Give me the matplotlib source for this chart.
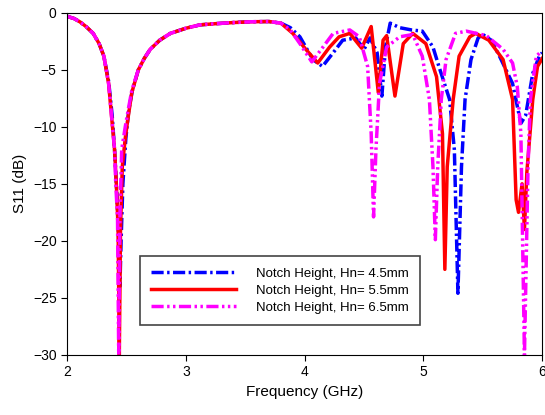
import matplotlib.pyplot as plt

plt.rcParams['font.family'] = ['Liberation Sans', 'DejaVu Sans']

# Hn = 4.5 mm
f_45 = [2.0, 2.06, 2.11, 2.16, 2.22, 2.27, 2.31, 2.35, 2.38, 2.40, 2.42, 2.435, 2.445,
        2.455, 2.47, 2.495, 2.52, 2.55, 2.60, 2.65, 2.70, 2.78, 2.87, 3.0, 3.12, 3.25,
        3.40, 3.55, 3.70, 3.80, 3.88, 3.96, 4.07, 4.15, 4.24, 4.32, 4.43, 4.50, 4.55,
        4.61, 4.65, 4.68, 4.72, 4.80, 4.90, 4.99, 5.08, 5.13, 5.22, 5.26, 5.29, 5.32,
        5.35, 5.40, 5.46, 5.50, 5.57, 5.64, 5.75, 5.82, 5.86, 5.92, 5.975, 6.0]
s_45 = [-0.3, -0.5, -0.8, -1.2, -1.8, -2.7, -3.8, -6.0, -9.0, -12, -16, -20, -24,
        -20, -15, -11, -8.5, -6.8, -5.0, -4.0, -3.2, -2.4, -1.8, -1.35, -1.05, -0.95,
        -0.85, -0.78, -0.76, -0.9, -1.3, -2.1, -4.1, -4.7, -3.5, -2.4, -2.2, -3.2, -2.2,
        -3.5, -7.3, -3.0, -0.9, -1.3, -1.5, -1.6, -3.0, -4.7, -7.6, -12.0, -24.6, -13.5,
        -7.6, -4.1, -2.2, -1.9, -2.4, -3.8, -6.2, -9.7, -9.0, -5.3, -3.8, -3.5]

# Hn = 5.5 mm
f_55 = [2.0, 2.06, 2.11, 2.16, 2.22, 2.27, 2.31, 2.35, 2.375, 2.40, 2.415, 2.43, 2.44,
        2.45, 2.465, 2.49, 2.515, 2.545, 2.60, 2.65, 2.70, 2.78, 2.87, 3.0, 3.12, 3.25,
        3.40, 3.55, 3.70, 3.80, 3.90, 4.01, 4.11, 4.21, 4.29, 4.38, 4.48, 4.56, 4.62,
        4.66, 4.69, 4.76, 4.83, 4.91, 5.02, 5.11, 5.16, 5.18, 5.20, 5.25, 5.30, 5.39,
        5.44, 5.55, 5.67, 5.75, 5.78, 5.80, 5.83, 5.85, 5.87, 5.92, 5.96, 6.0]
s_55 = [-0.3, -0.5, -0.8, -1.2, -1.8, -2.7, -3.8, -6.2, -9.1, -12, -15, -19, -30,
        -19, -13.5, -11, -9.1, -7.0, -5.0, -4.0, -3.2, -2.4, -1.8, -1.35, -1.05, -0.95,
        -0.85, -0.78, -0.76, -0.9, -1.8, -3.2, -4.4, -3.0, -2.1, -1.8, -3.1, -1.2, -7.0,
        -2.4, -2.0, -7.3, -2.7, -1.8, -2.7, -5.6, -10.6, -22.5, -13.5, -7.6, -3.8, -2.1,
        -1.8, -2.4, -4.1, -7.6, -16.4, -17.5, -15.0, -19.0, -14.0, -7.6, -4.7, -4.0]

# Hn = 6.5 mm
f_65 = [2.0, 2.06, 2.11, 2.16, 2.22, 2.27, 2.31, 2.35, 2.375, 2.40, 2.41, 2.425, 2.435,
        2.445, 2.46, 2.49, 2.515, 2.545, 2.60, 2.65, 2.70, 2.78, 2.87, 3.0, 3.12, 3.25,
        3.40, 3.55, 3.70, 3.80, 3.88, 3.96, 4.06, 4.14, 4.24, 4.38, 4.46, 4.53, 4.56,
        4.58, 4.60, 4.63, 4.69, 4.80, 4.91, 4.99, 5.05, 5.08, 5.10, 5.12, 5.15, 5.19,
        5.27, 5.36, 5.53, 5.67, 5.75, 5.79, 5.82, 5.85, 5.88, 5.90, 5.95, 5.99]
s_65 = [-0.3, -0.5, -0.8, -1.2, -1.8, -2.7, -3.8, -6.2, -9.1, -12, -15, -18, -30,
        -18, -12, -10, -8.5, -6.8, -5.0, -4.0, -3.2, -2.4, -1.8, -1.35, -1.05, -0.95,
        -0.85, -0.78, -0.76, -0.9, -1.5, -2.7, -4.3, -3.2, -1.8, -1.5, -2.1, -4.7, -10.6,
        -17.9, -12.0, -6.2, -3.0, -2.1, -1.9, -3.8, -7.6, -13.5, -19.9, -13.5, -7.6, -4.1,
        -1.8, -1.6, -2.0, -3.2, -4.4, -6.5, -10.6, -30, -13.5, -7.6, -3.8, -3.4]

labels = ['Notch Height, Hn= 4.5mm', 'Notch Height, Hn= 5.5mm', 'Notch Height, Hn= 6.5mm']

fig = plt.figure(figsize=(5.45, 4.15), dpi=100)
ax = fig.add_axes([0.123, 0.145, 0.872, 0.824])

ax.plot(f_45, s_45, color='#0000ff', lw=2.5, dashes=(3.5, 1, 0.7, 1), label=labels[0])
ax.plot(f_55, s_55, color='#ff0000', lw=2.5, label=labels[1])
ax.plot(f_65, s_65, color='#ff00ff', lw=2.5, dashes=(3.5, 1, 0.7, 1, 0.7, 1), label=labels[2])

ax.set_xlim(2, 6)
ax.set_ylim(-30, 0)
ax.set_xticks([2, 3, 4, 5, 6])
ax.set_yticks([0, -5, -10, -15, -20, -25, -30])
ax.tick_params(direction='out', labelsize=10, length=4)
ax.set_xlabel('Frequency (GHz)', fontsize=11)
ax.set_ylabel('S11 (dB)', fontsize=11)

leg = ax.legend(loc='lower left', bbox_to_anchor=(0.154, 0.088), borderaxespad=0,
                fontsize=9.5, handlelength=6.4, handletextpad=1.5, fancybox=False,
                edgecolor='#444444', framealpha=1, borderpad=0.85, labelspacing=0.35)
leg.get_frame().set_linewidth(1.2)

fig.savefig('out.png', dpi=100)
